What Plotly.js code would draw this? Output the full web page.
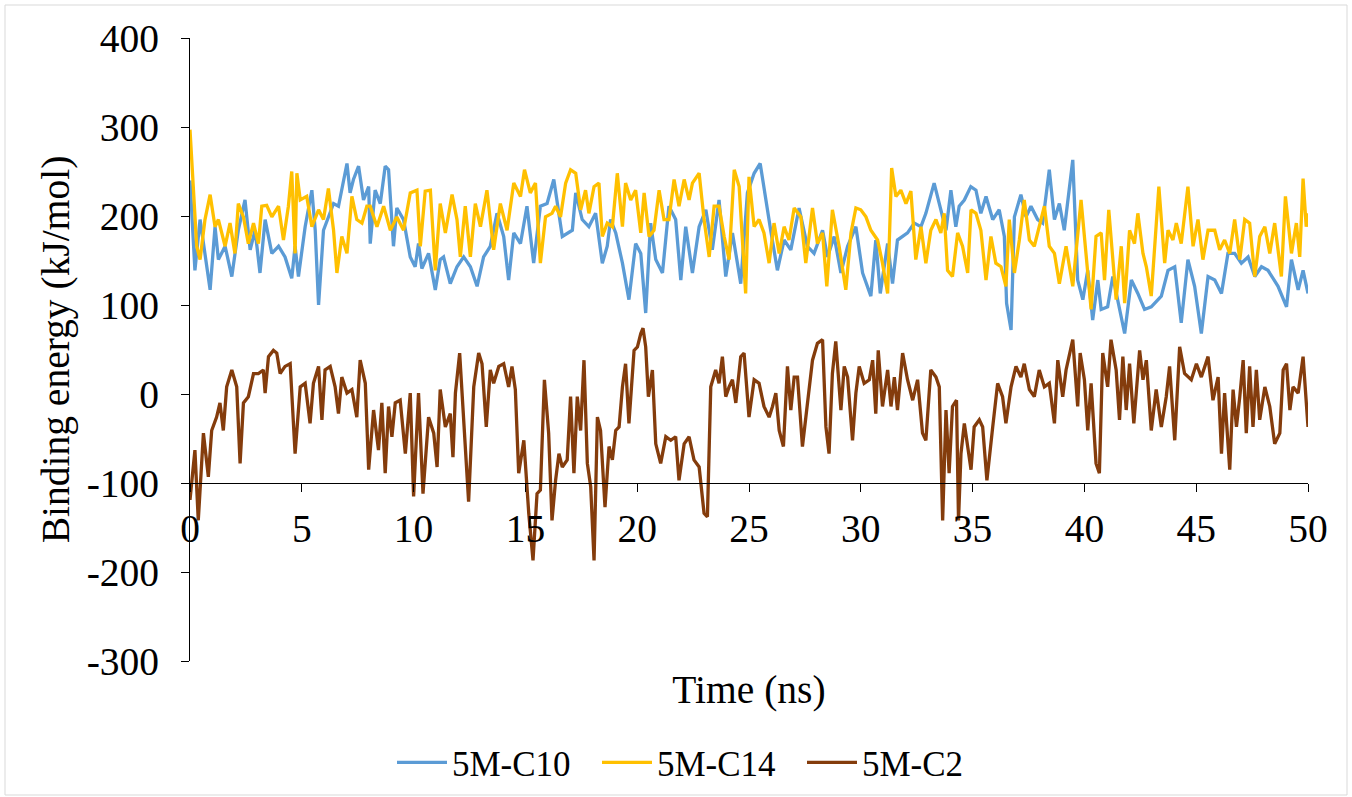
<!DOCTYPE html>
<html>
<head>
<meta charset="utf-8">
<script src="https://cdn.plot.ly/plotly-3.0.1.min.js"></script>
<style>html,body{margin:0;padding:0;background:#fff;}#chart{width:1352px;height:797px;}</style>
</head>
<body>
<div id="chart"></div>
<script>
const seriesNames = ["5M-C10", "5M-C14", "5M-C2"];
const yTickValues = [-300, -200, -100, 0, 100, 200, 300, 400];
const yTickLabels = ["-300", "-200", "-100", "0", "100", "200", "300", "400"];

const c10Time = [0,0.22,0.45,0.67,0.90,1.12,1.27,1.57,1.87,2.16,2.46,2.69,2.91,3.13,3.36,3.66,3.96,4.25,4.55,4.70,4.85,5.15,5.45,5.60,5.75,5.97,6.19,6.42,6.64,6.87,7.02,7.16,7.31,7.54,7.76,7.99,
8.06,8.28,8.51,8.73,8.88,9.10,9.25,9.55,9.85,10.07,10.22,10.37,10.67,10.97,11.19,11.34,11.64,11.94,12.24,12.54,12.84,13.13,13.43,13.73,14.03,14.25,14.48,14.78,15.07,15.37,15.67,15.97,16.27,
16.65,17.10,17.25,17.54,17.84,18.14,18.44,18.66,18.81,19.04,19.34,19.63,19.93,20.16,20.38,20.60,20.83,21.13,21.42,21.72,21.95,22.17,22.47,22.77,23.07,23.36,23.66,23.96,24.26,24.63,
24.93,25.23,25.50,25.75,25.97,26.27,26.57,26.87,27.24,27.61,27.91,28.29,28.51,28.81,29.11,29.41,29.78,30.08,30.45,30.67,30.87,31.20,31.42,31.64,32.09,32.39,32.69,32.91,
33.28,33.51,33.81,34.03,34.25,34.40,34.63,34.92,35.15,35.37,35.60,35.90,36.19,36.42,36.52,36.72,36.87,37.16,37.39,37.61,37.91,38.13,38.43,38.66,38.88,39.10,39.33,39.48,39.70,39.93,40.15,40.37,40.60,40.75,41.04,41.27,
41.80,42.10,42.39,42.69,42.99,43.44,43.74,44.04,44.33,44.63,44.93,45.23,45.53,45.83,46.13,46.42,46.72,47.02,47.32,47.62,47.92,48.21,48.66,49.04,49.26,49.56,49.78,50.0];
const c10Energy = [240,139,196,158,117,188,151,166,132,184,218,162,184,136,196,158,166,154,130,166,132,188,229,184,100,184,199,214,211,241,259,226,241,256,218,233,
169,229,214,256,252,166,209,196,154,143,169,141,158,117,151,154,124,143,154,143,121,154,166,203,177,128,181,169,211,147,211,214,241,
177,184,226,196,188,203,147,166,196,181,147,106,169,158,91,192,151,136,211,196,128,188,136,188,207,162,218,132,181,124,
226,248,259,218,184,139,173,162,209,166,158,184,154,177,136,166,188,136,110,173,113,169,124,173,181,192,188,203,
237,214,184,229,188,211,218,233,229,203,222,196,207,177,102,72,199,224,199,211,196,192,252,196,214,184,237,263,128,106,139,83,128,95,98,132,
68,128,113,95,98,110,139,143,80,151,121,68,132,128,113,158,158,147,154,132,143,139,121,98,151,117,139,113];

const c14Time = [0,0.15,0.30,0.45,0.67,0.90,1.12,1.27,1.57,1.79,2.01,2.16,2.39,2.61,2.84,3.06,3.21,3.43,3.66,3.96,4.18,4.40,4.55,4.70,4.78,4.93,5.22,5.45,5.75,5.97,6.19,6.42,6.57,6.79,7.02,7.24,7.46,7.69,7.91,
8.06,8.36,8.66,8.96,9.25,9.55,9.85,10.15,10.30,10.52,10.75,10.97,11.19,11.42,11.72,11.94,12.09,12.31,12.54,12.76,12.99,13.28,13.58,13.88,14.18,14.48,14.78,14.96,15.22,15.45,15.67,15.90,16.19,
16.35,16.57,16.80,17.02,17.25,17.47,17.69,17.84,18.07,18.29,18.44,18.66,18.89,19.11,19.34,19.48,19.71,19.93,20.16,20.31,20.53,20.75,20.98,21.20,21.42,21.65,21.87,22.10,22.32,22.47,22.77,22.99,23.22,23.44,23.66,23.89,24.11,24.34,24.56,
24.85,25.0,25.23,25.45,25.67,25.90,26.12,26.35,26.57,26.79,27.02,27.32,27.54,27.84,28.06,28.29,28.48,28.73,29.03,29.33,29.56,29.78,30.00,30.23,30.45,30.75,30.97,31.20,31.38,31.57,31.79,32.02,32.24,32.46,32.69,32.91,
33.13,33.36,33.58,33.73,33.88,34.10,34.33,34.55,34.78,34.93,35.15,35.37,35.60,35.82,36.04,36.27,36.49,36.64,36.87,37.09,37.31,37.54,37.76,37.98,38.21,38.43,38.66,38.88,39.18,39.48,39.70,39.85,40.07,40.30,40.52,40.75,40.90,41.09,
41.42,41.65,41.80,42.02,42.24,42.39,42.62,42.77,42.99,43.14,43.33,43.59,43.74,43.96,44.11,44.33,44.63,44.86,45.08,45.30,45.53,45.83,46.05,46.27,46.50,46.72,46.95,47.17,47.39,47.62,47.84,48.07,48.29,48.51,48.81,48.99,49.26,49.48,49.63,49.78,49.92,50.0];
const c14Energy = [297,233,166,151,196,224,188,196,166,192,158,214,199,169,192,169,211,212,199,211,173,211,250,158,248,218,222,188,207,196,231,184,136,177,158,222,196,192,211,
211,188,211,184,199,184,226,229,166,228,229,139,214,181,224,196,154,211,154,214,188,229,162,214,184,237,222,252,226,237,147,199,203,
211,199,237,252,248,207,229,203,233,237,177,192,188,248,188,237,218,229,181,226,177,184,229,196,196,241,211,241,218,237,248,196,154,211,211,177,151,252,233,
113,244,188,196,181,147,192,158,188,173,209,199,147,209,169,181,121,207,166,117,181,209,207,199,184,173,147,113,254,222,229,214,228,151,188,147,
184,196,181,203,139,132,181,166,136,207,203,184,128,177,147,143,121,196,136,173,218,173,166,188,211,166,158,124,166,121,184,218,158,95,177,181,128,207,
106,166,102,184,169,203,158,143,110,169,233,147,184,173,192,169,233,166,196,151,184,184,162,173,158,196,151,196,192,132,177,188,158,192,132,222,158,192,154,242,188,203];

const c2Time = [0,0.22,0.37,0.60,0.82,0.97,1.19,1.34,1.49,1.64,1.87,2.09,2.24,2.39,2.61,2.84,3.06,3.28,3.36,3.51,3.73,3.88,4.03,4.25,4.48,4.70,4.93,5.15,5.37,5.52,5.75,5.90,6.04,6.27,6.49,6.64,6.79,7.02,7.24,7.46,7.61,7.84,7.99,
8.21,8.43,8.58,8.73,8.88,9.03,9.18,9.40,9.63,9.85,10.0,10.22,10.42,10.67,10.90,11.05,11.19,11.42,11.64,11.76,11.87,12.06,12.24,12.46,12.69,12.91,13.06,13.25,13.43,13.58,13.81,14.03,14.25,14.40,14.55,14.70,14.93,15.15,15.34,15.52,15.67,15.85,16.04,16.19,
16.35,16.50,16.65,16.87,17.02,17.17,17.32,17.47,17.62,17.77,17.92,18.07,18.22,18.36,18.56,18.74,18.89,19.04,19.19,19.34,19.48,19.63,19.86,20.01,20.16,20.26,20.38,20.50,20.68,20.83,21.05,21.28,21.50,21.72,21.87,22.10,22.32,22.54,22.77,22.99,23.14,23.29,23.51,23.66,23.81,23.96,24.11,24.26,24.41,24.63,
24.78,25.0,25.23,25.45,25.67,25.90,26.05,26.20,26.35,26.54,26.72,26.87,27.02,27.17,27.39,27.61,27.84,28.06,28.29,28.44,28.58,28.73,28.88,29.11,29.26,29.41,29.63,29.78,29.93,30.15,30.38,30.53,30.67,30.78,30.97,31.20,31.35,31.50,31.64,31.87,32.09,32.32,32.54,32.76,32.91,
33.13,33.36,33.51,33.66,33.81,33.95,34.10,34.28,34.37,34.48,34.63,34.78,34.93,35.07,35.30,35.45,35.64,35.90,36.12,36.34,36.49,36.72,36.94,37.16,37.31,37.54,37.76,37.98,38.21,38.43,38.66,38.81,39.03,39.18,39.48,39.70,39.81,40.0,40.15,40.30,40.52,40.67,40.82,41.04,41.19,
41.42,41.57,41.72,41.87,42.02,42.21,42.47,42.62,42.77,42.99,43.21,43.44,43.66,43.81,44.04,44.26,44.48,44.78,45.01,45.23,45.53,45.75,45.98,46.13,46.27,46.50,46.65,46.80,46.95,47.10,47.24,47.39,47.54,47.69,47.84,48.07,48.29,48.51,48.74,48.89,49.04,49.19,49.33,49.56,49.78,49.93,50.0];
const c2Energy = [-119,-63,-142,-44,-93,-41,-26,-10,-41,8,27,8,-78,-10,-3,23,23,27,1,42,49,46,23,31,34,-67,8,12,-33,12,31,-29,27,31,8,-22,19,1,5,-26,38,12,-85,
-18,-63,-10,-89,-14,-48,-10,-7,-67,1,-115,1,-112,-26,-44,-82,5,-37,-22,-71,1,46,-29,-121,8,46,34,-37,27,12,31,34,8,31,5,-89,-52,-134,-187,-112,-108,16,-44,-142,
-97,-67,-82,-74,-3,-89,-3,-41,38,-78,-104,-187,-26,-41,-127,-59,-74,-41,-37,8,34,-33,49,53,68,74,53,-3,27,-56,-78,-48,-52,-48,-97,-56,-48,-74,-82,-134,-138,8,27,12,42,-3,8,16,-10,42,
46,-26,16,12,-14,-26,-14,1,-41,-59,31,-18,19,19,-59,-14,38,57,61,-37,-67,23,59,-18,31,19,-52,1,31,12,16,38,-22,49,-14,27,-14,19,-18,46,16,-7,16,-44,-52,
27,19,8,-142,-18,-89,-14,-7,-142,-67,-33,-59,-85,-37,-29,-37,-97,-37,12,-3,-33,8,31,19,34,5,-3,27,8,12,-33,38,-3,27,61,-14,46,16,-41,12,-78,-89,46,8,61,
27,-29,42,-18,34,-33,49,16,38,-41,5,-37,-3,31,-52,53,23,16,34,19,42,-7,19,-67,1,-85,5,-37,-3,38,-44,31,-37,27,-29,8,-14,-56,-44,27,34,-18,8,1,42,-18,-37];

const colors = ["#5B9BD5", "#FFC000", "#843C0C"];
const FONT = "Liberation Serif, Times New Roman, serif";
const FS = 39.5;

const traces = [
  {x: c10Time, y: c10Energy, name: seriesNames[0]},
  {x: c14Time, y: c14Energy, name: seriesNames[1]},
  {x: c2Time, y: c2Energy, name: seriesNames[2]}
].map((t, i) => Object.assign(t, {
  type: "scatter", mode: "lines",
  line: {color: colors[i], width: 3.3}
}));

const layout = {
  width: 1352, height: 797,
  margin: {l: 190, r: 44, t: 38, b: 136, autoexpand: false},
  paper_bgcolor: "#ffffff", plot_bgcolor: "#ffffff",
  font: {family: FONT, color: "#000000", size: FS},
  showlegend: true,
  xaxis: {
    range: [0, 50], tick0: 0, dtick: 5,
    anchor: "free", position: 200/700, automargin: false,
    showline: true, linecolor: "#000000", linewidth: 1,
    ticks: "outside", ticklen: 8, tickcolor: "#000000",
    showgrid: false, zeroline: false,
    tickfont: {family: FONT, size: FS, color: "#000000"},
    ticklabelstandoff: 3,
    title: {text: "Time (ns)", font: {family: FONT, size: FS, color: "#000000"}, standoff: 124}
  },
  yaxis: {
    range: [-300, 400], tickmode: "array", tickvals: yTickValues, ticktext: yTickLabels,
    automargin: false,
    showline: true, linecolor: "#000000", linewidth: 1,
    ticks: "outside", ticklen: 8, tickcolor: "#000000",
    showgrid: false, zeroline: false,
    tickfont: {family: FONT, size: FS, color: "#000000"},
    ticklabelstandoff: 14,
    title: {text: "Binding energy (kJ/mol)", font: {family: FONT, size: FS, color: "#000000"}, standoff: 4}
  },
  legend: {
    orientation: "h", x: (392-190)/1118, xanchor: "left", y: -0.163, yanchor: "middle",
    entrywidth: 140, entrywidthmode: "pixels", itemwidth: 50,
    font: {family: FONT, size: 35, color: "#000000"},
    bgcolor: "rgba(0,0,0,0)"
  },
  shapes: [{
    type: "rect", xref: "paper", yref: "paper",
    x0: (5-190)/1118, x1: (1347-190)/1118, y0: (661-795)/623, y1: (661-5)/623,
    line: {color: "#D9D9D9", width: 1}, fillcolor: "rgba(0,0,0,0)", layer: "below"
  }]
};

Plotly.newPlot("chart", traces, layout, {displayModeBar: false, responsive: false});
</script>
</body>
</html>
